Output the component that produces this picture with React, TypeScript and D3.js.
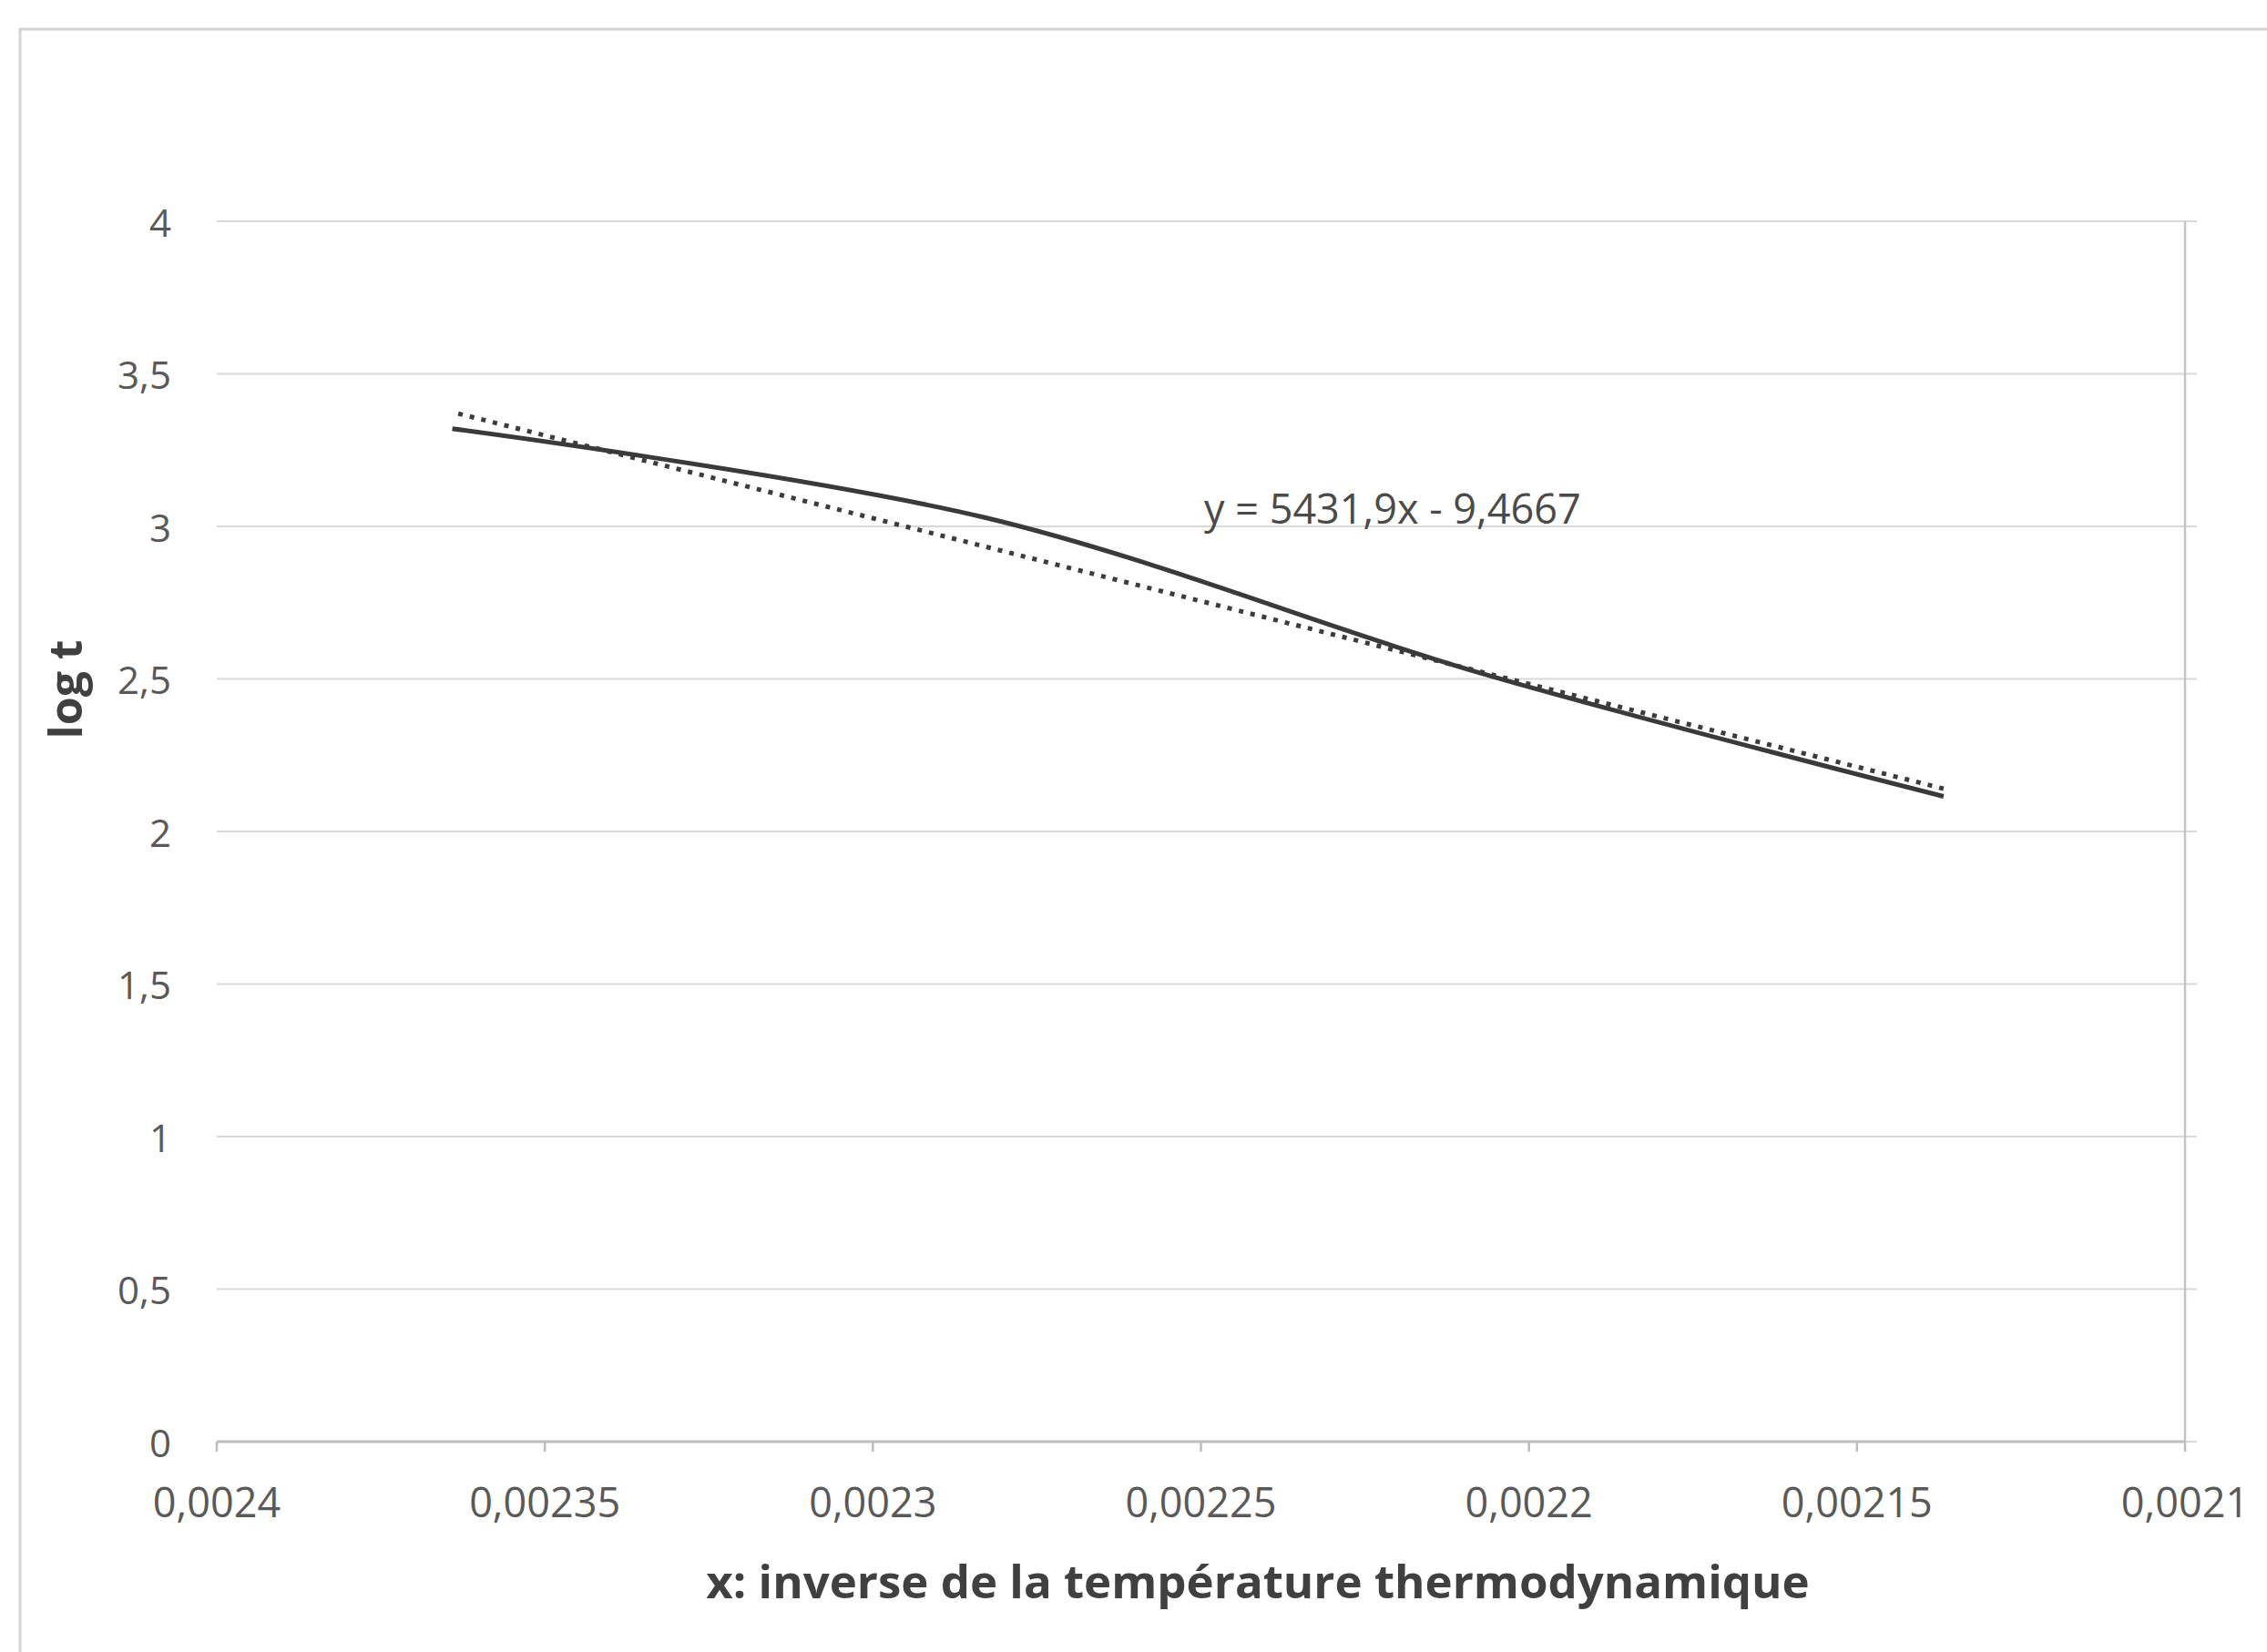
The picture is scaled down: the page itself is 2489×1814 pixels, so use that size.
import * as d3 from "d3";

// inverse of thermodynamic temperature (1/K) and log t
const invT = [0.0023641, 0.0022831, 0.0022075, 0.0021368];
const logT = [3.32, 3.03, 2.52, 2.115];

// linear trendline shown on the chart
const slope = 5431.9;
const intercept = -9.4667;
const equationLabel = "y = 5431,9x - 9,4667";

const xTicks = [0.0024, 0.00235, 0.0023, 0.00225, 0.0022, 0.00215, 0.0021];
const yTicks = [0, 0.5, 1, 1.5, 2, 2.5, 3, 3.5, 4];
const xTitle = "x: inverse de la température thermodynamique";
const yTitle = "log t";

const fr = d3.formatLocale({ decimal: ",", thousands: " ", grouping: [3], currency: ["", " €"] });
const fmt = fr.format("~g");

export default function App() {
  const width = 2489;
  const height = 1814;
  const left = 238, right = 2399, top = 243, bottom = 1583;

  const x = d3.scaleLinear([0.0024, 0.0021], [left, right]);
  const y = d3.scaleLinear([0, 4], [bottom, top]);

  const line = d3
    .line<number>((d, i) => x(invT[i]), (d) => y(d))
    .curve(d3.curveCardinal.tension(0));

  const [x0, x1] = d3.extent(invT) as [number, number];
  const trend = d3.line<number>((d) => x(d), (d) => y(slope * d + intercept));

  const font = "'Open Sans', 'DejaVu Sans', sans-serif";

  return (
    <svg
      width={width}
      height={height}
      style={{ position: "absolute", left: 0, top: 0, display: "block", background: "#fff" }}
      fontFamily={font}
    >
      {/* chart frame */}
      <rect x={22} y={32} width={2600} height={2000} fill="none" stroke="#d4d4d4" strokeWidth={3} />

      {/* gridlines + right axis ticks */}
      <g stroke="#d9d9d9" strokeWidth={2}>
        {yTicks.map((t) => (
          <line key={t} x1={left} x2={right + 13} y1={y(t)} y2={y(t)} />
        ))}
      </g>
      <line x1={right} x2={right} y1={top} y2={bottom} stroke="#c4c4c4" strokeWidth={2.5} />

      {/* x axis */}
      <line x1={left} x2={right} y1={bottom} y2={bottom} stroke="#bdbdbd" strokeWidth={3} />
      <g stroke="#bdbdbd" strokeWidth={2.5}>
        {xTicks.map((t) => (
          <line key={t} x1={x(t)} x2={x(t)} y1={bottom} y2={bottom + 11} />
        ))}
      </g>

      {/* tick labels */}
      <g fill="#595959">
        {yTicks.map((t) => (
          <text key={t} x={188} y={y(t)} fontSize={42} textAnchor="end" dominantBaseline="central">
            {fmt(t)}
          </text>
        ))}
        {xTicks.map((t) => (
          <text key={t} x={x(t)} y={1648} fontSize={45} textAnchor="middle" dominantBaseline="central">
            {fmt(t)}
          </text>
        ))}
      </g>

      {/* trendline */}
      <path
        d={trend([x0, x1]) ?? ""}
        fill="none"
        stroke="#3c3c3c"
        strokeWidth={5}
        strokeDasharray="5 8"
      />
      {/* series */}
      <path d={line(logT) ?? ""} fill="none" stroke="#3a3a3a" strokeWidth={5} strokeLinejoin="round" />

      <text x={1322} y={557} fill="#4a4a4a" fontSize={45} dominantBaseline="central">
        {equationLabel}
      </text>

      {/* axis titles */}
      <text x={1381} y={1735} fill="#404040" fontSize={51} fontWeight="bold" textAnchor="middle" dominantBaseline="central">
        {xTitle}
      </text>
      <text
        transform="translate(71,757) rotate(-90)"
        fill="#404040"
        fontSize={50}
        fontWeight="bold"
        textAnchor="middle"
        dominantBaseline="central"
      >
        {yTitle}
      </text>
    </svg>
  );
}
